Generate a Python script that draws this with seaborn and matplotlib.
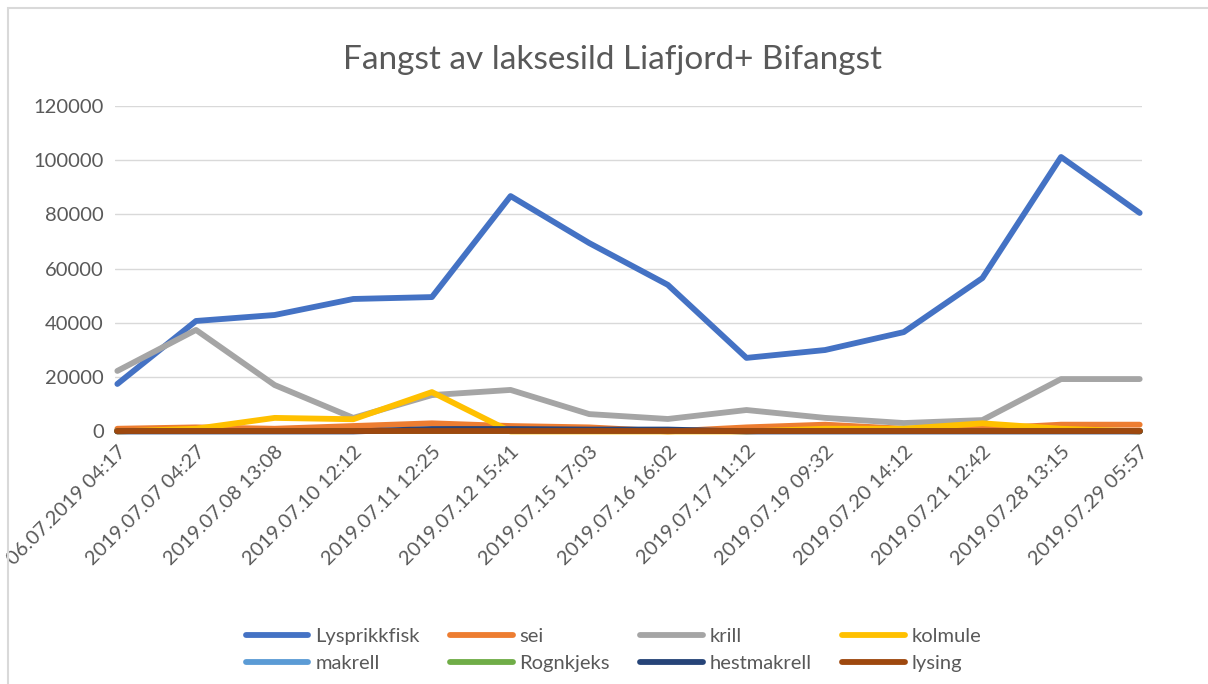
import pandas as pd
import matplotlib.pyplot as plt
import seaborn as sns
from matplotlib.patches import Rectangle

sns.set_theme(style="white")
plt.rcParams['font.family'] = ['Lato', 'DejaVu Sans']

# data
tidspunkt = ["06.07.2019 04:17", "2019.07.07 04:27", "2019.07.08 13:08", "2019.07.10 12:12",
             "2019.07.11 12:25", "2019.07.12 15:41", "2019.07.15 17:03", "2019.07.16 16:02",
             "2019.07.17 11:12", "2019.07.19 09:32", "2019.07.20 14:12", "2019.07.21 12:42",
             "2019.07.28 13:15", "2019.07.29 05:57"]
lysprikkfisk = [17500, 40700, 42900, 48800, 49500, 86700, 69400, 54000, 27100, 30000, 36600, 56500, 101100, 80500]
sei = [1000, 1500, 1000, 2000, 3000, 2000, 1500, 0, 1500, 2500, 1000, 1000, 2500, 2500]
krill = [22300, 37400, 17100, 5000, 13400, 15300, 6400, 4600, 7900, 5000, 3100, 4200, 19300, 19300]
kolmule = [0, 1000, 5000, 4500, 14500, 0, 0, 0, 0, 1000, 1000, 3000, 1000, 0]
makrell = [0] * 14
rognkjeks = [0] * 14
hestmakrell = [0, 0, 0, 0, 900, 900, 700, 700, 0, 0, 0, 0, 0, 0]
lysing = [0] * 14

serier = ["Lysprikkfisk", "sei", "krill", "kolmule", "makrell", "Rognkjeks", "hestmakrell", "lysing"]
verdier = [lysprikkfisk, sei, krill, kolmule, makrell, rognkjeks, hestmakrell, lysing]
farger = ["#4472C4", "#ED7D31", "#A5A5A5", "#FFC000", "#5B9BD5", "#70AD47", "#264478", "#9E480E"]

rows = []
for navn, vals in zip(serier, verdier):
    for i, v in enumerate(vals):
        rows.append({"idx": i, "Fangst": v, "Art": navn})
df = pd.DataFrame(rows)

fig = plt.figure(figsize=(12.08, 6.84), dpi=100)
ax = fig.add_axes([0.0952, 0.3692, 0.8502, 0.4763])

sns.lineplot(data=df, x="idx", y="Fangst", hue="Art", hue_order=serier,
             palette=farger, linewidth=4.2, clip_on=False, ax=ax)

grey = "#595959"
ax.set_xlim(-0.03, 13.03)
ax.set_ylim(0, 120000)
ax.set_yticks(range(0, 120001, 20000))
ax.set_yticklabels([str(v) for v in range(0, 120001, 20000)], fontsize=14.5, color=grey)
ax.set_xticks(range(len(tidspunkt)))
ax.set_xticklabels(tidspunkt, rotation=45, ha="right", rotation_mode="anchor",
                   fontsize=14.5, color=grey)
ax.tick_params(axis="both", length=0, pad=8)
ax.yaxis.grid(True, color="#D9D9D9", linewidth=1)
ax.set_axisbelow(True)
for s in ax.spines.values():
    s.set_visible(False)
ax.set_xlabel("")
ax.set_ylabel("")

# legend filled row by row like the original (2 rows x 4 columns)
handles, labels = ax.get_legend_handles_labels()
ax.get_legend().remove()
order = [0, 4, 1, 5, 2, 6, 3, 7]
fig.legend([handles[i] for i in order], [labels[i] for i in order], ncol=4, loc="center",
           bbox_to_anchor=(0.508, 0.05), frameon=False, fontsize=14.5, labelcolor=grey,
           handlelength=3.1, columnspacing=1.5, handletextpad=0.35, labelspacing=0.5)

fig.text(0.507, 0.912, "Fangst av laksesild Liafjord+ Bifangst", ha="center", va="center",
         fontsize=24, color=grey)

fig.patches.append(Rectangle((8 / 1208, -0.1), 1.2, 1 - 8 / 684 + 0.1, transform=fig.transFigure,
                             fill=False, edgecolor="#D9D9D9", linewidth=1.5))

fig.savefig("out.png", dpi=100)
